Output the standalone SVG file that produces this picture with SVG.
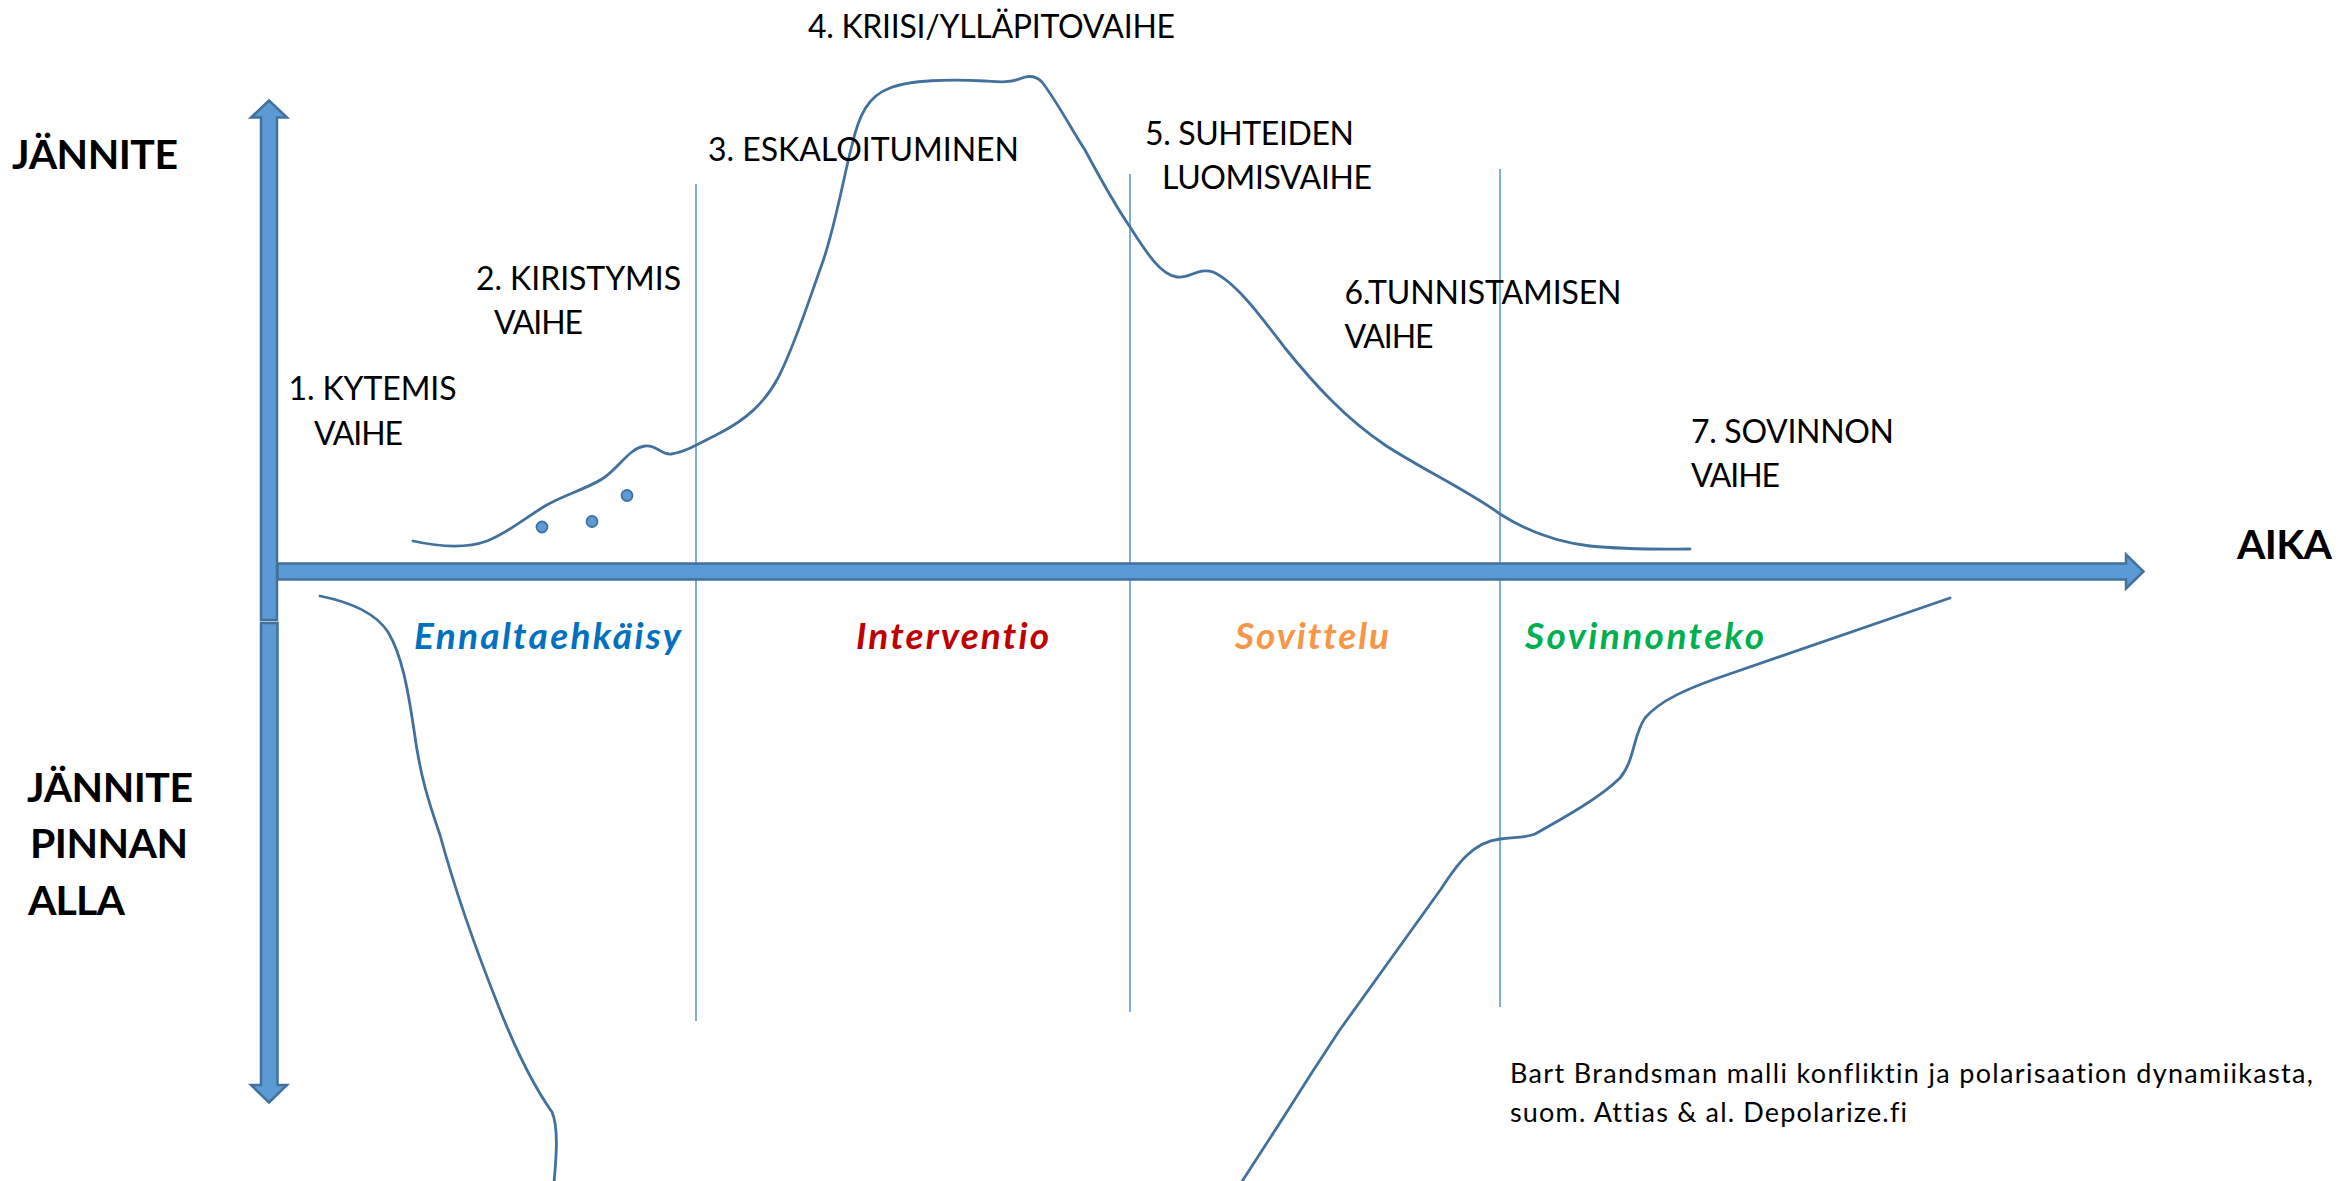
<svg xmlns="http://www.w3.org/2000/svg" width="2343" height="1181" viewBox="0 0 2343 1181">
<style>
text{font-variant-ligatures:none;font-feature-settings:"liga" 0,"clig" 0}
.arrow{fill:#5B9BD5;stroke:#41719C;stroke-width:2.5;stroke-linejoin:miter}
.curve{fill:none;stroke:#41719C;stroke-width:2.8;stroke-linecap:round;stroke-linejoin:round}
.div{stroke:#5B9BD5;stroke-width:1.6}
.dot{fill:#5B9BD5;stroke:#41719C;stroke-width:1.8}
.ax{font-family:Lato,'Liberation Sans',sans-serif;font-weight:bold;font-size:41px;fill:#000}
.lbl{font-family:Lato,'Liberation Sans',sans-serif;font-size:32px;fill:#000}
.cat{font-family:Lato,'Liberation Sans',sans-serif;font-weight:bold;font-style:italic;font-size:37px}
.cite{font-family:Lato,'Liberation Sans',sans-serif;font-size:27px;fill:#000}
</style>
<rect width="2343" height="1181" fill="#fff"/>
<g id="connectors">
<line class="div" x1="696" y1="184" x2="696" y2="1021"/>
<line class="div" x1="1130" y1="174" x2="1130" y2="1012"/>
<line class="div" x1="1500" y1="169" x2="1500" y2="1007"/>
<polygon id="axis-up" class="arrow" points="261,620 261,117.5 251,117.5 269,100.5 287,117.5 277,117.5 277,620"/>
<polygon id="axis-down" class="arrow" points="261,623 277.5,623 277.5,1085 287,1085 269,1102.5 251,1085 261,1085"/>
<polygon id="axis-time" class="arrow" points="277.5,563.5 2126,563.5 2126,554.5 2143.5,571.5 2126,588.5 2126,579.5 277.5,579.5"/>
<path id="tension-curve" class="curve" d="M 320,596 C 350,602 375,612 388,632 C 402,655 408,690 414,730 C 420,775 428,800 440,835 C 455,890 478,955 500,1010 C 520,1060 540,1095 552,1112 C 559,1128 556,1160 554,1183"/>
<path id="surface-curve" class="curve" d="M 413,541 C 440,547 465,549 487,541 C 508,533 525,518 545,506 C 565,494 590,488 605,477 C 620,466 630,448 645,446 C 656,444 661,455 671,454 C 686,452 702,442 720,433 C 745,420 764,404 778,378 C 795,345 809,300 822,264 C 835,228 844,175 852,145 C 859,115 868,96 890,88 C 910,80 950,79 985,81 C 1000,82 1010,83 1022,78 C 1030,75 1036,76 1042,82 C 1056,100 1072,130 1085,150 C 1100,178 1115,205 1130,227 C 1145,250 1160,275 1177,277 C 1190,279 1198,267 1213,272 C 1236,282 1262,318 1285,348 C 1315,385 1345,418 1385,445 C 1420,468 1470,492 1500,514 C 1525,530 1555,542 1590,546 C 1630,550 1665,549 1690,549"/>
<path id="under-curve" class="curve" d="M 1241,1183 L 1283,1118 Q 1310,1075 1339,1031 L 1441,889 C 1456,866 1472,842 1500,839 C 1515,837 1525,838 1535,834 C 1560,820 1600,798 1620,778 C 1635,760 1633,735 1645,718 C 1660,700 1690,688 1715,679 L 1950,598"/>
<circle class="dot" cx="542" cy="527" r="5.5"/>
<circle class="dot" cx="592" cy="521.5" r="5.5"/>
<circle class="dot" cx="627" cy="495.5" r="5.5"/>
</g>
<g id="axis-labels">
<text id="y-up" class="ax" x="12" y="168.6" textLength="166">JÄNNITE</text>
<text id="x-time" class="ax" x="2237" y="559" textLength="95">AIKA</text>
<g id="y-down">
<text class="ax" x="27" y="801.6" textLength="166">JÄNNITE</text>
<text class="ax" x="30" y="858" textLength="158">PINNAN</text>
<text class="ax" x="28" y="915" textLength="97">ALLA</text>
</g>
</g>
<g id="phase1"><text class="lbl" x="288.5" y="400.4" textLength="168">1. KYTEMIS</text><text class="lbl" x="314" y="445" textLength="89">VAIHE</text></g>
<g id="phase2"><text class="lbl" x="476" y="290" textLength="205">2. KIRISTYMIS</text><text class="lbl" x="494" y="334" textLength="89">VAIHE</text></g>
<g id="phase3"><text class="lbl" x="708" y="161.4" textLength="311">3. ESKALOITUMINEN</text></g>
<g id="phase4"><text class="lbl" x="808" y="37.5" textLength="367">4. KRIISI/YLLÄPITOVAIHE</text></g>
<g id="phase5"><text class="lbl" x="1145" y="145" textLength="209">5. SUHTEIDEN</text><text class="lbl" x="1162" y="189.3" textLength="210">LUOMISVAIHE</text></g>
<g id="phase6"><text class="lbl" x="1344.5" y="304" textLength="277">6.TUNNISTAMISEN</text><text class="lbl" x="1344.5" y="348.3" textLength="89">VAIHE</text></g>
<g id="phase7"><text class="lbl" x="1691" y="442.7" textLength="203">7. SOVINNON</text><text class="lbl" x="1691" y="487.3" textLength="89">VAIHE</text></g>
<g id="categories">
<text class="cat" x="414" y="648.5" fill="#0070C0" textLength="267">Ennaltaehkäisy</text>
<text class="cat" x="856" y="648.5" fill="#C00000" textLength="193">Interventio</text>
<text class="cat" x="1235" y="648.5" fill="#F79646" textLength="154">Sovittelu</text>
<text class="cat" x="1525" y="648.5" fill="#00B050" textLength="239">Sovinnonteko</text>
</g>
<g id="citation">
<text class="cite" x="1510" y="1083.3" textLength="803">Bart Brandsman malli konfliktin ja polarisaation dynamiikasta,</text>
<text class="cite" x="1510" y="1121.7" textLength="397">suom. Attias &amp; al. Depolarize.fi</text>
</g>
</svg>
